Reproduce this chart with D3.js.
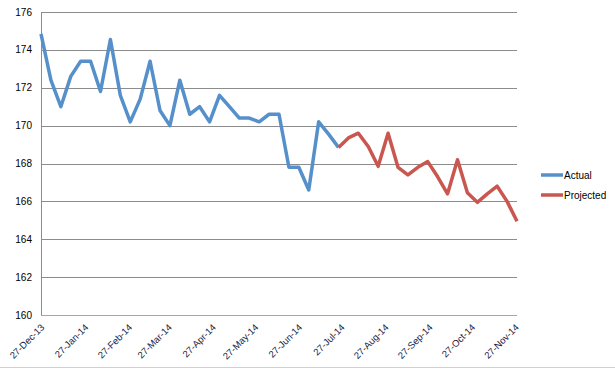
<!DOCTYPE html>
<html>
<head>
<meta charset="utf-8">
<script src="https://cdn.jsdelivr.net/npm/d3@7"></script>
<style>
  body { margin: 0; background: #fff; }
  text { font-family: "Liberation Sans", Arial, sans-serif; }
</style>
</head>
<body>
<script>
"use strict"

/* valori: una misura alla settimana, dal 27-Dec-13 */
const primaData = new Date(2013, 11, 27);
const actual = [174.85, 172.4, 171.0, 172.6, 173.4, 173.4, 171.8, 174.55, 171.6, 170.2,
    171.4, 173.4, 170.8, 170.0, 172.4, 170.6, 171.0, 170.2, 171.6, 171.0,
    170.4, 170.4, 170.2, 170.6, 170.6, 167.8, 167.8, 166.6, 170.2, 169.55, 168.85];
/* la serie proiettata parte dall'ultima settimana reale */
const inizioProiezione = 30;
const projected = [168.85, 169.35, 169.6, 168.9, 167.85, 169.6, 167.8, 167.4, 167.8, 168.1,
    167.3, 166.4, 168.2, 166.45, 165.95, 166.4, 166.8, 166.0, 164.95];
const yTicks = [160, 162, 164, 166, 168, 170, 172, 174, 176];
const etichetteX = ["27-Dec-13", "27-Jan-14", "27-Feb-14", "27-Mar-14", "27-Apr-14", "27-May-14",
    "27-Jun-14", "27-Jul-14", "27-Aug-14", "27-Sep-14", "27-Oct-14", "27-Nov-14"];
const serie = ["Actual", "Projected"];
const colori = ["#5590cb", "#c9574f"];

const grafico = { larghezza: 615, altezza: 369 };
const margine = { sinistra: 41, destra: 98, sopra: 12, sotto: 54 };

function settimana(i) {
    return d3.timeDay.offset(primaData, i * 7);
}

const datiActual = actual.map(function (v, i) { return { data: settimana(i), valore: v } });
const datiProjected = projected.map(function (v, i) {
    return { data: settimana(inizioProiezione + i), valore: v }
});
const ultimaData = datiProjected[datiProjected.length - 1].data;

const x = d3.scaleTime()
    .domain([primaData, ultimaData])
    .range([margine.sinistra, grafico.larghezza - margine.destra]);
const y = d3.scaleLinear()
    .domain([160, 176])
    .range([grafico.altezza - margine.sotto, margine.sopra]);

const parseEtichetta = d3.timeParse("%d-%b-%y");

const svg = d3.select("body")
    .append("svg")
    .attr("width", grafico.larghezza)
    .attr("height", grafico.altezza);

/* linee della griglia orizzontale */
svg.append("g")
    .selectAll("line")
    .data(yTicks.slice(1))
    .enter()
    .append("line")
    .attr("x1", margine.sinistra)
    .attr("x2", grafico.larghezza - margine.destra)
    .attr("y1", function (d) { return Math.round(y(d)) + 0.5 })
    .attr("y2", function (d) { return Math.round(y(d)) + 0.5 })
    .attr("stroke", "#8c8c8c")
    .attr("stroke-width", 1);

/* asse verticale e asse orizzontale */
svg.append("line")
    .attr("x1", margine.sinistra + 0.5).attr("x2", margine.sinistra + 0.5)
    .attr("y1", y(176)).attr("y2", y(160))
    .attr("stroke", "#8c8c8c");
svg.append("line")
    .attr("x1", margine.sinistra).attr("x2", grafico.larghezza - margine.destra)
    .attr("y1", Math.round(y(160)) + 0.5).attr("y2", Math.round(y(160)) + 0.5)
    .attr("stroke", "#a6a6a6");

/* bordo inferiore dell'area del grafico */
svg.append("line")
    .attr("x1", 0).attr("x2", grafico.larghezza)
    .attr("y1", grafico.altezza - 1.5).attr("y2", grafico.altezza - 1.5)
    .attr("stroke", "#d0d0d0");

/* etichette asse y */
svg.append("g")
    .selectAll("text")
    .data(yTicks)
    .enter()
    .append("text")
    .attr("x", margine.sinistra - 9)
    .attr("y", function (d) { return y(d) })
    .attr("dy", "0.35em")
    .attr("text-anchor", "end")
    .attr("font-size", "10px")
    .attr("fill", "#000")
    .text(function (d) { return d });

/* etichette asse x, ruotate di 45 gradi */
svg.append("g")
    .selectAll("text")
    .data(etichetteX)
    .enter()
    .append("text")
    .attr("transform", function (d) {
        return "translate(" + (x(parseEtichetta(d)) + 4) + "," + (y(160) + 13) + ") rotate(-45)"
    })
    .attr("text-anchor", "end")
    .attr("font-size", "9.5px")
    .attr("fill", "#1c1c3a")
    .text(function (d) { return d });

const linea = d3.line()
    .x(function (d) { return x(d.data) })
    .y(function (d) { return y(d.valore) });

[datiActual, datiProjected].forEach(function (dati, i) {
    svg.append("path")
        .datum(dati)
        .attr("d", linea)
        .attr("fill", "none")
        .attr("stroke", colori[i])
        .attr("stroke-width", 3.5)
        .attr("stroke-linejoin", "round");
});

/* legenda */
const legenda = svg.append("g")
    .selectAll("g")
    .data(serie)
    .enter()
    .append("g")
    .attr("transform", function (d, i) { return "translate(541," + (175 + i * 20) + ")" });
legenda.append("line")
    .attr("x1", 0).attr("x2", 22)
    .attr("stroke", function (d, i) { return colori[i] })
    .attr("stroke-width", 3.5);
legenda.append("text")
    .attr("x", 23)
    .attr("dy", "0.35em")
    .attr("font-size", "10px")
    .attr("fill", "#000")
    .text(function (d) { return d });
</script>
</body>
</html>
